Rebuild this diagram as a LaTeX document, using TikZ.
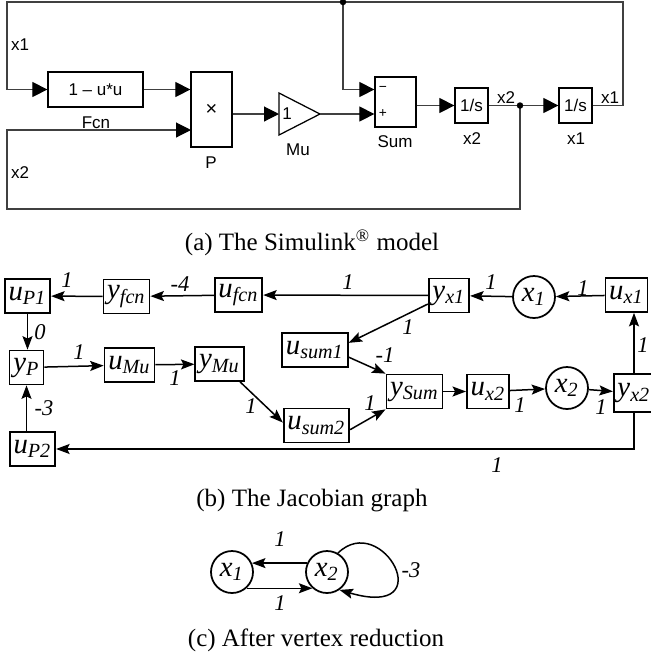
\documentclass[tikz,border=0pt]{standalone}
\usepackage{fontspec}
\setmainfont{Liberation Serif}
\newfontfamily\slsans{Liberation Sans}
\usetikzlibrary{arrows.meta}

% variable in the graph, e.g. \jv{u}{P1}
\newcommand{\jv}[2]{\textit{#1\textsubscript{#2}}}

\tikzset{
  blk/.style={draw, line width=0.5pt, inner sep=0pt, font=\slsans\fontsize{6.8}{8}\selectfont},
  lbl/.style={font=\slsans\fontsize{6.8}{8}\selectfont, inner sep=0pt},
  wire/.style={draw=black!75, line width=0.45pt},
  sig/.style={wire, -{Triangle[length=6pt,width=6pt,color=black]}},
  vbox/.style={draw, line width=0.7pt, inner xsep=1.5pt, inner ysep=0pt, minimum height=13.6pt, font=\fontsize{11.5}{13}\selectfont},
  vcirc/.style={draw, circle, line width=0.7pt, minimum size=16.8pt, inner sep=0pt, font=\fontsize{11.5}{13}\selectfont},
  jedge/.style={line width=0.6pt, -{Stealth[length=5.4pt,width=4pt,inset=1pt]}},
  wt/.style={font=\fontsize{9}{10}\selectfont\itshape, inner sep=0pt},
  captext/.style={font=\fontsize{10}{12}\selectfont}
}

\begin{document}
\begin{tikzpicture}[x=0.4pt, y=-0.4pt]
  \useasboundingbox (0,0) rectangle (651,655);

  % ---- Simulink model ----
  \node[blk, minimum width=38pt, minimum height=14pt] (fcn) at (95.5,89.5) {1 – u*u};
  \node[blk, minimum width=16.4pt, minimum height=30pt, font=\slsans\fontsize{8}{8}\selectfont] (p) at (211.5,109.5) {×};
  \node[blk, minimum width=16.4pt, minimum height=20pt] (sum) at (395.5,102) {};
  \node[blk, minimum width=13.2pt, minimum height=14pt] (intb) at (471.5,105.5) {1/s};
  \node[blk, minimum width=13.2pt, minimum height=14pt] (inta) at (575.5,105.5) {1/s};
  % gain
  \coordinate (mu in) at (279,114);
  \coordinate (mu out) at (320,114);
  \draw[line width=0.5pt] (279,93) -- (mu out) -- (279,135) -- cycle;
  \node[lbl] at (287,114) {1};
  % signs of the sum
  \node[lbl, font=\slsans\fontsize{5.5}{6}\selectfont] at (383,89) {−};
  \node[lbl, font=\slsans\fontsize{5.5}{6}\selectfont] at (383,114) {+};

  % block names
  \node[lbl] at (96,122.5) {Fcn};
  \node[lbl] at (211,163) {P};
  \node[lbl] at (298,150) {Mu};
  \node[lbl] at (395,142) {Sum};
  \node[lbl] at (472,139) {x2};
  \node[lbl] at (576,139) {x1};

  % signals
  \coordinate (ret) at (623,2);
  \coordinate (lft) at (7,2);
  \coordinate (jx1) at (343,2);
  \coordinate (jx2) at (520,105.5);
  \coordinate (bot) at (7,209);
  \coordinate (pin) at (191,130);
  \draw[sig] (fcn.east) -- (fcn.east -| p.west);
  \draw[sig] (p.east |- mu in) -- (mu in);
  \draw[sig] (mu out) -- (mu out -| sum.west);
  \draw[sig] (sum.east |- intb) -- (intb.west);
  \draw[sig] (intb.east) -- (inta.west);
  \draw[sig] (inta.east) -| (ret) -- (lft) |- (fcn.west);
  \draw[sig] (jx1) |- (sum.west |- fcn.east);
  \draw[sig] (jx2) |- (bot) |- (pin);
  \fill (jx1) circle (1.3pt);
  \fill (jx2) circle (1.3pt);
  \node[lbl] at (20,45) {x1};
  \node[lbl] at (20,173) {x2};
  \node[lbl] at (506,98) {x2};
  \node[lbl] at (610,98) {x1};

  \node[captext] at (312,242.5) {(a) The Simulink\textsuperscript{\textregistered} model};

  % ---- Jacobian graph ----
  \node[vbox] (uP1) at (27.5,296) {\jv{u}{P1}};
  \node[vbox] (yfcn) at (126.5,296.5) {\jv{y}{fcn}};
  \node[vbox] (ufcn) at (238.5,295) {\jv{u}{fcn}};
  \node[vbox] (yx1) at (449,295.5) {\jv{y}{x1}};
  \node[vcirc] (x1) at (534,297) {\jv{x}{1}};
  \node[vbox] (ux1) at (626.5,295) {\jv{u}{x1}};
  \node[vbox] (yP) at (26.5,367.5) {\jv{y}{P}};
  \node[vbox] (uMu) at (129.5,365) {\jv{u}{Mu}};
  \node[vbox] (yMu) at (219.5,364) {\jv{y}{Mu}};
  \node[vbox] (usum1) at (315,350) {\jv{u}{sum1}};
  \node[vbox] (usum2) at (316.5,425.5) {\jv{u}{sum2}};
  \node[vbox] (ySum) at (414.5,391.5) {\jv{y}{Sum}};
  \node[vbox] (ux2) at (488,391.5) {\jv{u}{x2}};
  \node[vcirc] (x2) at (567,388) {\jv{x}{2}};
  \node[vbox, minimum height=15pt] (yx2) at (634,393) {\jv{y}{x2}};
  \node[vbox] (uP2) at (32.5,449) {\jv{u}{P2}};

  \draw[jedge] (ufcn) -- (yfcn);
  \draw[jedge] (yfcn) -- (uP1);
  \draw[jedge] (yx1) -- (ufcn);
  \draw[jedge] (x1) -- (yx1);
  \draw[jedge] (ux1) -- (x1);
  \draw[jedge] (yx1.202) -- (usum1.12);
  \draw[jedge] (usum1.348) -- (ySum.north west);
  \draw[jedge] (usum2.353) -- (ySum.south west);
  \draw[jedge] (ySum) -- (ux2);
  \draw[jedge] (ux2) -- (x2);
  \draw[jedge] (x2) -- (yx2);
  \draw[jedge] (yx2) -- (yx2 |- ux1.south);
  \draw[jedge] (yx2.south) |- (uP2);
  \draw[jedge] (uP2.north -| yP.south) -- (yP.south);
  \draw[jedge] (uP1.south) -- (uP1.south |- yP.north);
  \draw[jedge] (yP) -- (uMu);
  \draw[jedge] (uMu) -- (yMu);
  \draw[jedge] (yMu.319) -- (usum2.175);

  % weights
  \node[wt] at (180,284) {-4};
  \node[wt] at (67,280) {1};
  \node[wt] at (348,282) {1};
  \node[wt] at (491,282) {1};
  \node[wt] at (583,288) {1};
  \node[wt] at (408,327) {1};
  \node[wt] at (385,355) {-1};
  \node[wt] at (370,403) {1};
  \node[wt] at (520,405) {1};
  \node[wt] at (601,407) {1};
  \node[wt] at (643,345) {1};
  \node[wt] at (497,465) {1};
  \node[wt] at (44,408) {-3};
  \node[wt] at (40,332) {0};
  \node[wt] at (79,352) {1};
  \node[wt] at (175,378) {1};
  \node[wt] at (251,406) {1};

  \node[captext] at (312,501) {(b) The Jacobian graph};

  % ---- reduced graph ----
  \node[vcirc] (cx1) at (232,572) {\jv{x}{1}};
  \node[vcirc] (cx2) at (327,572) {\jv{x}{2}};
  \draw[jedge] (cx2.156) -- (cx1.24);
  \draw[jedge] (cx1.-48) -- (cx2.-132);
  \draw[jedge] (cx2.60) .. controls (382,510) and (442,620) .. (cx2.-55);
  \node[wt] at (411,570) {-3};
  \node[wt] at (280,539) {1};
  \node[wt] at (280,603) {1};

  \node[captext] at (316,640) {(c) After vertex reduction};
\end{tikzpicture}
\end{document}
